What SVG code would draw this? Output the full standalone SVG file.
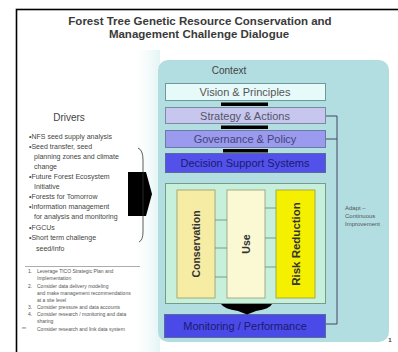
<svg xmlns="http://www.w3.org/2000/svg" width="398" height="352" viewBox="0 0 398 352">
<defs>
<style>
.t{font-family:"Liberation Sans",Arial,sans-serif;}
.title{font-size:11.5px;font-weight:bold;fill:#3a3a3a;text-anchor:middle;}
.lbl{font-size:11px;text-anchor:middle;}
.drv{font-size:7px;fill:#444;}
.sm{font-size:5px;fill:#555;}
.col{font-size:10.5px;font-weight:bold;fill:#333;text-anchor:middle;}
.bar{fill:#000;}
.link{stroke:#446;stroke-width:1;fill:none;}
.tick{stroke:#6a8a70;stroke-width:0.8;}
</style>
<linearGradient id="fade" x1="0" y1="0" x2="1" y2="0">
<stop offset="0" stop-color="#fff" stop-opacity="0"/>
<stop offset="1" stop-color="#e4f4f4"/>
</linearGradient>
</defs>
<rect x="0" y="0" width="398" height="352" fill="#fff"/>
<rect x="130" y="50" width="30" height="302" fill="url(#fade)"/>
<rect x="16.5" y="9.5" width="400" height="360" fill="none" stroke="#000" stroke-width="1.6"/>

<g id="title" class="t">
<text class="title" x="200" y="25">Forest Tree Genetic Resource Conservation and</text>
<text class="title" x="199" y="38">Management Challenge Dialogue</text>
</g>

<g id="drivers" class="t">
<text x="69" y="121" style="font-size:10px;fill:#444;text-anchor:middle">Drivers</text>
<text class="drv" x="29" y="139">•NFS seed supply analysis</text>
<text class="drv" x="29" y="149">•Seed transfer, seed</text>
<text class="drv" x="34" y="159">planning zones and climate</text>
<text class="drv" x="34" y="169">change</text>
<text class="drv" x="29" y="179">•Future Forest Ecosystem</text>
<text class="drv" x="34" y="189">Initiative</text>
<text class="drv" x="29" y="199">•Forests for Tomorrow</text>
<text class="drv" x="29" y="209">•Information management</text>
<text class="drv" x="34" y="219">for analysis and monitoring</text>
<text class="drv" x="29" y="230">•FGCUs</text>
<text class="drv" x="29" y="240">•Short term challenge</text>
<text class="drv" x="36" y="251">seed/info</text>
<line x1="25" y1="266.5" x2="140" y2="266.5" stroke="#888" stroke-width="0.7"/>
<text class="sm" x="28" y="273">1.</text>
<text class="sm" x="37" y="273">Leverage TICO Strategic Plan and</text>
<text class="sm" x="37" y="280">Implementation</text>
<text class="sm" x="28" y="288">2.</text>
<text class="sm" x="37" y="288">Consider data delivery modeling</text>
<text class="sm" x="37" y="295">and make management recommendations</text>
<text class="sm" x="37" y="302">at a site level</text>
<text class="sm" x="28" y="309">3.</text>
<text class="sm" x="37" y="309">Consider pressure and data accounts</text>
<text class="sm" x="28" y="316">4.</text>
<text class="sm" x="37" y="316">Consider research / monitoring and data</text>
<text class="sm" x="37" y="323">sharing</text>
<text class="sm" x="22" y="331">**</text>
<text class="sm" x="37" y="331">Consider research and link data system</text>
</g>

<g id="context" class="t">
<rect x="158" y="60" width="231" height="282" rx="10" fill="#b2dde1"/>
<text class="lbl" x="229" y="74" fill="#444" style="font-size:10px">Context</text>
</g>

<g id="vision" class="t">
<rect x="165.5" y="83.5" width="160" height="17" fill="#e6fafa" stroke="#6a9a9a"/>
<text class="lbl" x="245" y="96" fill="#555">Vision &amp; Principles</text>
</g>
<g id="strategy" class="t">
<rect x="165.5" y="107.5" width="160" height="16" fill="#c6c6ef" stroke="#7a8aa0"/>
<text class="lbl" x="245" y="119.5" fill="#556">Strategy &amp; Actions</text>
</g>
<g id="governance" class="t">
<rect x="165.5" y="130.5" width="160" height="17" fill="#9a9aee" stroke="#6a7aa0"/>
<text class="lbl" x="245" y="143" fill="#447">Governance &amp; Policy</text>
</g>
<g id="dss" class="t">
<rect x="165.5" y="153.5" width="160" height="19" fill="#5252ea" stroke="#5a6a9a"/>
<text class="lbl" x="245" y="167" fill="#1a1a70">Decision Support Systems</text>
</g>

<g id="core">
<rect x="165.5" y="183.5" width="160" height="120" fill="#c6efdc" stroke="#7a9a88"/>
</g>
<g id="conservation" class="t">
<rect x="177" y="190" width="38" height="108" fill="#f7eca4" stroke="#9a9a60" stroke-width="0.8"/>
<text class="col" transform="translate(200,244) rotate(-90)">Conservation</text>
</g>
<g id="use" class="t">
<rect x="227" y="190" width="38" height="108" fill="#fbf9d4" stroke="#9a9a70" stroke-width="0.8"/>
<text class="col" transform="translate(250,244) rotate(-90)">Use</text>
</g>
<g id="risk" class="t">
<rect x="276" y="190" width="39" height="108" fill="#f5ef00" stroke="#9a9a40" stroke-width="0.8"/>
<text class="col" transform="translate(299.5,244) rotate(-90)" style="font-size:11.5px">Risk Reduction</text>
</g>

<g id="monitoring" class="t">
<rect x="164.5" y="314.5" width="161" height="23" fill="#4a4ae8" stroke="#5a6a9a"/>
<text class="lbl" x="245" y="330" fill="#1a1a70">Monitoring / Performance</text>
</g>

<g id="adapt-label" class="t">
<text class="sm" x="345" y="210" style="font-size:6px">Adapt –</text>
<text class="sm" x="345" y="218" style="font-size:6px">Continuous</text>
<text class="sm" x="345" y="226" style="font-size:6px">Improvement</text>
</g>

<g id="page" class="t">
<text x="390" y="342" style="font-size:6px;font-weight:bold;fill:#333;text-anchor:middle">1</text>
</g>

<g id="connectors">
<rect class="bar" x="221" y="102.5" width="47" height="3.5"/>
<rect class="bar" x="221" y="125.5" width="47" height="3.5"/>
<rect class="bar" x="223" y="149" width="45" height="3.5"/>
<path class="bar" d="M221,304 L272,304 Q270,309 256,311 L247,314.5 L238,311 Q224,309 221,304 Z"/>
<polygon class="bar" points="128,172 146,172 152,194 146,216 128,216"/>
<path d="M138,148 Q143,150 143,160 L143,232 Q143,240 139,242" fill="none" stroke="#333" stroke-width="0.8"/>
<path class="link" d="M326,116 L337,116 L337,324 L326,324"/>
<line class="link" x1="326" y1="139" x2="337" y2="139"/>
<line class="tick" x1="215" y1="220" x2="227" y2="220"/>
<line class="tick" x1="215" y1="248" x2="227" y2="248"/>
<line class="tick" x1="215" y1="277" x2="227" y2="277"/>
<line class="tick" x1="265" y1="208" x2="276" y2="208"/>
<line class="tick" x1="265" y1="238" x2="276" y2="238"/>
<line class="tick" x1="265" y1="267" x2="276" y2="267"/>
</g>
</svg>
